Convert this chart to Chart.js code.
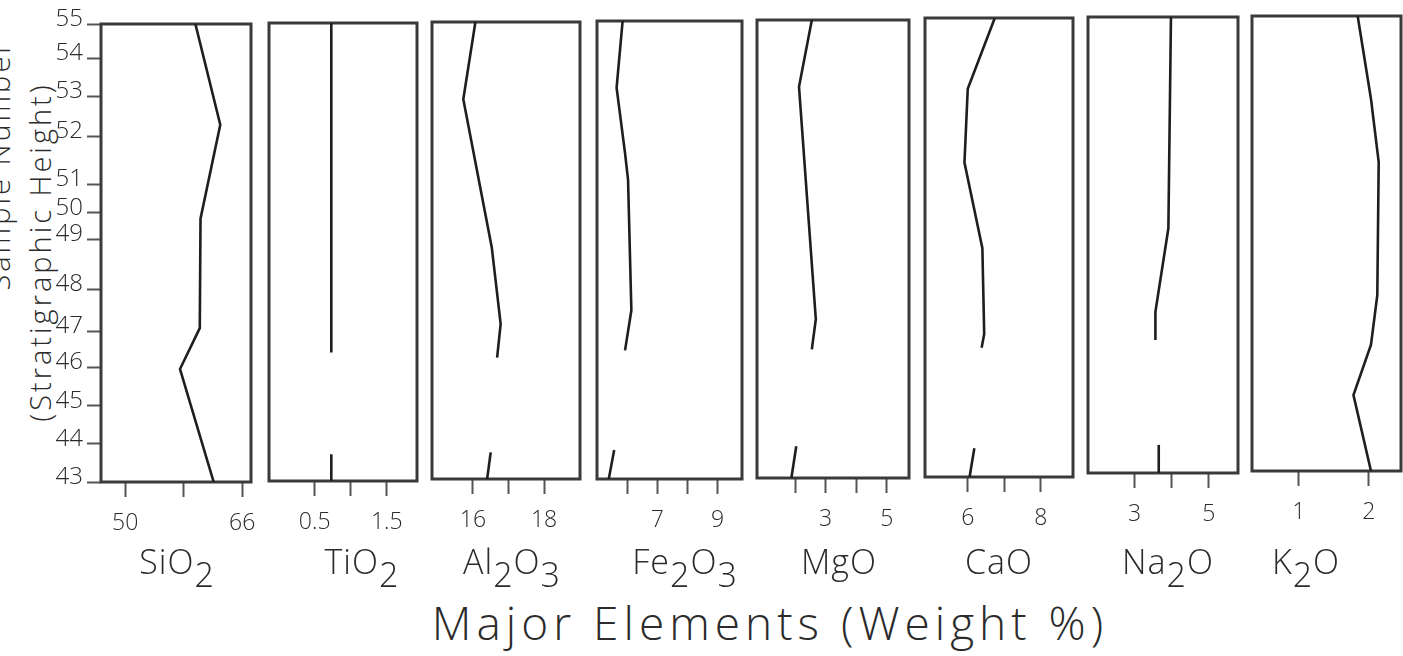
<!DOCTYPE html>
<html>
<head>
<meta charset="utf-8">
<script src="https://cdn.jsdelivr.net/npm/chart.js@4.4.1/dist/chart.umd.min.js"></script>
<style>
  html, body { margin: 0; padding: 0; background: #fff; }
  #figure {
    position: relative; width: 1403px; height: 656px; overflow: hidden;
    font-family: 'Open Sans', 'DejaVu Sans', sans-serif; font-weight: 300; color: #2b2b2b;
  }
  .panel { position: absolute; }
  .oxide {
    position: absolute; top: 544px; font-size: 34px; line-height: 1;
    transform: translateX(-50%); white-space: nowrap; letter-spacing: 1px;
  }
  .oxide sub { font-size: 1em; vertical-align: -0.38em; line-height: 0; }
  #xtitle {
    position: absolute; left: 770px; top: 599px; font-size: 46px; line-height: 1;
    transform: translateX(-50%); white-space: nowrap; letter-spacing: 5px;
  }
  .ytitle {
    position: absolute; font-size: 29px; line-height: 1; white-space: nowrap; letter-spacing: 3px;
    transform: translate(-50%, -50%) rotate(-90deg);
  }
</style>
</head>
<body>
<div id="figure">
  <div class="ytitle" style="left: -2px; top: 165px;">Sample Number</div>
  <div class="ytitle" style="left: 39px; top: 252px;">(Stratigraphic Height)</div>
  <div id="xtitle">Major Elements (Weight %)</div>
</div>
<script>
// samples and their stratigraphic position (height units, base of section = 0)
const sampleNumbers = [43, 44, 45, 46, 47, 48, 49, 50, 51, 52, 53, 54, 55];
const sampleHeights = [0, 1.0, 2.0, 3.0, 3.95, 5.05, 6.35, 7.05, 7.8, 9.05, 10.1, 11.1, 12];

const oxides = ['SiO2', 'TiO2', 'Al2O3', 'Fe2O3', 'MgO', 'CaO', 'Na2O', 'K2O'];

// profiles as [height, weight %]; null breaks the trace
const siO2 = [[0, 62.1], [2.96, 57.5], [4.03, 60.2], [6.9, 60.3], [9.36, 63.0], [12, 59.6]];
const tiO2 = [[0, 0.73], [0.7, 0.73], null, [3.37, 0.73], [12, 0.73]];
const al2O3 = [[0, 16.4], [0.7, 16.5], null, [3.19, 16.68], [4.07, 16.78], [6.08, 16.53], [9.97, 15.73], [12, 16.07]];
const fe2O3 = [[0, 5.39], [0.76, 5.57], null, [3.37, 5.93], [4.42, 6.14], [7.84, 6.03], [8.54, 5.93], [10.25, 5.65], [12, 5.85]];
const mgO = [[0, 1.88], [0.83, 2.04], null, [3.37, 2.55], [4.16, 2.68], [10.25, 2.13], [12, 2.55]];
const caO = [[0, 6.05], [0.75, 6.18], null, [3.38, 6.38], [3.74, 6.45], [5.98, 6.4], [8.22, 5.91], [10.15, 6.0], [12, 6.74]];
const na2O = [[0, 3.65], [0.74, 3.65], null, [3.5, 3.56], [4.24, 3.56], [6.44, 3.91], [12, 3.98]];
const k2O = [[0, 2.03], [2.0, 1.78], [3.33, 2.03], [4.64, 2.12], [8.15, 2.14], [9.81, 2.03], [12, 1.84]];
const profiles = [siO2, tiO2, al2O3, fe2O3, mgO, caO, na2O, k2O];

// x axis ticks and their printed labels
const tickValues = [
  [50, 58, 66], [0.5, 1.0, 1.5], [16, 17, 18], [6, 7, 8, 9],
  [2, 3, 4, 5], [6, 7, 8], [3, 4, 5], [1, 2]
];
const tickLabels = [
  ['50', '', '66'], ['0.5', '', '1.5'], ['16', '', '18'], ['', '7', '', '9'],
  ['', '3', '', '5'], ['6', '', '8'], ['3', '', '5'], ['1', '2']
];
const axisRanges = [
  [46.7, 67.2], [-0.135, 1.92], [14.85, 19.01], [5.0, 9.81],
  [0.755, 5.73], [4.83, 8.88], [1.74, 5.79], [0.333, 2.458]
];

// panel frames on the page: left, right, top, bottom
const panelBoxes = [
  [101, 251, 24, 482], [265, 417, 23, 481], [428, 580, 22, 479], [593, 742, 21, 479],
  [753, 909, 20, 478], [921, 1073, 18, 477], [1084, 1238, 17, 473], [1248, 1401, 16, 471]
];
const nameCentres = [177, 362, 512, 685, 839, 999, 1168, 1306];

const INK = '#1e1e1e';
const FRAME = '#3a3a3a';
const TEXT = '#2b2b2b';
const FONT = "'Open Sans', 'DejaVu Sans', sans-serif";
const PAD = 4;
const AXIS_H = 62;

const figure = document.getElementById('figure');

// box around each chart area
const framePlugin = {
  id: 'frame',
  beforeDatasetsDraw(chart) {
    const { ctx, chartArea: a } = chart;
    ctx.save();
    ctx.strokeStyle = FRAME;
    ctx.lineWidth = 3;
    ctx.strokeRect(a.left, a.top, a.right - a.left, a.bottom - a.top);
    ctx.restore();
  }
};

// split a profile on nulls into separate line segments
function segments(profile) {
  const out = [[]];
  profile.forEach(p => {
    if (p === null) out.push([]);
    else out[out.length - 1].push({ x: p[1], y: p[0] });
  });
  return out.filter(s => s.length);
}

function buildPanel(i) {
  const [L, R, T, B] = panelBoxes[i];
  const first = i === 0;
  // the first panel carries the sample axis, so give it room above for the top label
  const left = first ? 20 : L - PAD;
  const top = first ? 0 : T - PAD;

  const wrap = document.createElement('div');
  wrap.className = 'panel';
  wrap.style.left = left + 'px';
  wrap.style.top = top + 'px';
  wrap.style.width = (R + PAD - left) + 'px';
  wrap.style.height = (B - top + AXIS_H) + 'px';
  const canvas = document.createElement('canvas');
  wrap.appendChild(canvas);
  figure.appendChild(wrap);

  const name = document.createElement('div');
  name.className = 'oxide';
  name.style.left = nameCentres[i] + 'px';
  name.innerHTML = oxides[i].replace(/(\d)/g, '<sub>$1</sub>');
  figure.appendChild(name);

  new Chart(canvas, {
    type: 'scatter',
    data: {
      datasets: segments(profiles[i]).map(seg => ({
        data: seg,
        showLine: true,
        borderColor: INK,
        borderWidth: 2.6,
        pointRadius: 0,
        tension: 0
      }))
    },
    options: {
      responsive: true,
      maintainAspectRatio: false,
      animation: false,
      layout: { padding: { left: first ? 0 : PAD, right: PAD, top: T - top, bottom: 0 } },
      plugins: { legend: { display: false }, tooltip: { enabled: false } },
      scales: {
        x: {
          type: 'linear',
          min: axisRanges[i][0],
          max: axisRanges[i][1],
          afterBuildTicks: s => { s.ticks = tickValues[i].map(v => ({ value: v })); },
          afterFit: s => { s.height = AXIS_H; s.paddingLeft = 0; s.paddingRight = 0; },
          border: { display: false },
          grid: { drawOnChartArea: false, tickLength: 15, tickWidth: 2, tickColor: '#555' },
          ticks: {
            autoSkip: false,
            maxRotation: 0,
            padding: 13,
            color: TEXT,
            font: { family: FONT, size: 23, weight: 300 },
            callback: (v, idx) => tickLabels[i][idx]
          }
        },
        y: {
          type: 'linear',
          display: first,
          min: 0,
          max: 12,
          afterBuildTicks: s => { s.ticks = sampleHeights.map(v => ({ value: v })); },
          afterFit: s => { s.width = L - left; s.paddingTop = 0; s.paddingBottom = 0; },
          border: { display: false },
          grid: { drawOnChartArea: false, tickLength: 14, tickWidth: 2, tickColor: '#555' },
          ticks: {
            autoSkip: false,
            padding: 4,
            labelOffset: -5,
            color: TEXT,
            font: { family: FONT, size: 24, weight: 300 },
            callback: (v, idx) => String(sampleNumbers[idx])
          }
        }
      }
    },
    plugins: [framePlugin]
  });
}

oxides.forEach((_, i) => buildPanel(i));
</script>
</body>
</html>
